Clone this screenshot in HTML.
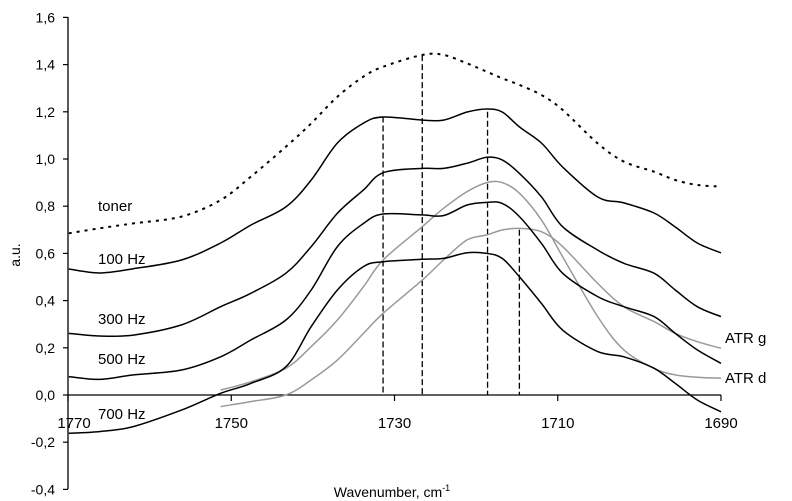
<!DOCTYPE html>
<html><head><meta charset="utf-8"><style>
body{margin:0;background:#fff}
svg{display:block;font-family:"Liberation Sans",Arial,sans-serif}
</style></head><body>
<svg id="chart" width="792" height="501" viewBox="0 0 792 501"></svg>
<script>
const yTicks=[1.6,1.4,1.2,1.0,0.8,0.6,0.4,0.2,0.0,-0.2,-0.4];
const xTicks=[1770,1750,1730,1710,1690];
const wnBlack=[1769.9,1766.2,1762.0,1756.1,1751.3,1747.6,1743.3,1740.2,1737.0,1733.8,1731.4,1726.6,1724.0,1721.1,1718.7,1716.8,1714.7,1712.0,1709.4,1705.1,1701.9,1698.2,1695.6,1692.9,1690];
const tonerVals=[0.685,0.706,0.727,0.756,0.826,0.925,1.052,1.151,1.264,1.349,1.391,1.441,1.441,1.405,1.370,1.342,1.314,1.271,1.208,1.066,0.989,0.946,0.911,0.890,0.883];
const hz100Vals=[0.534,0.517,0.535,0.572,0.644,0.720,0.797,0.911,1.068,1.152,1.178,1.165,1.165,1.199,1.212,1.199,1.136,1.068,0.966,0.839,0.814,0.771,0.712,0.644,0.602];
const hz300Vals=[0.261,0.250,0.254,0.297,0.374,0.431,0.516,0.629,0.770,0.869,0.942,0.960,0.960,0.982,1.007,0.996,0.939,0.840,0.713,0.614,0.558,0.516,0.445,0.374,0.332];
const hz500Vals=[0.078,0.066,0.085,0.106,0.162,0.233,0.318,0.445,0.629,0.727,0.767,0.763,0.760,0.805,0.816,0.812,0.756,0.643,0.516,0.417,0.374,0.332,0.261,0.191,0.134];
const hz700Vals=[-0.162,-0.155,-0.134,-0.064,0.007,0.049,0.120,0.290,0.445,0.544,0.565,0.575,0.579,0.603,0.600,0.579,0.501,0.388,0.275,0.184,0.162,0.113,0.049,-0.021,-0.071];
const wnAtr=[1751.3,1747.6,1743.3,1740.2,1737.0,1733.8,1731.4,1726.6,1724.0,1721.1,1718.7,1716.8,1714.7,1712.0,1709.4,1705.1,1701.9,1698.2,1695.6,1692.9,1690];
const atrDVals=[0.021,0.056,0.113,0.205,0.318,0.459,0.572,0.713,0.791,0.862,0.900,0.900,0.855,0.742,0.586,0.332,0.191,0.113,0.085,0.075,0.071];
const atrGVals=[-0.049,-0.028,0.0,0.064,0.148,0.261,0.346,0.487,0.572,0.657,0.678,0.699,0.706,0.692,0.629,0.473,0.374,0.311,0.261,0.226,0.198];
const peakWn=[1731.4,1726.6,1718.6,1714.7];
const peakTop=[1.18,1.44,1.20,0.70];

const svg=document.getElementById('chart');
const NS='http://www.w3.org/2000/svg';
const X=w=>68+(1770-w)*(653/80);
const Y=v=>395-v*236;
function mk(tag,attrs,parent){const e=document.createElementNS(NS,tag);for(const k in attrs)e.setAttribute(k,attrs[k]);(parent||svg).appendChild(e);return e;}
function smooth(pts){let d='M'+pts[0][0].toFixed(1)+','+pts[0][1].toFixed(1);
 for(let i=0;i<pts.length-1;i++){const p0=pts[i-1]||pts[i],p1=pts[i],p2=pts[i+1],p3=pts[i+2]||p2;
  const c1=[p1[0]+(p2[0]-p0[0])/6,p1[1]+(p2[1]-p0[1])/6],c2=[p2[0]-(p3[0]-p1[0])/6,p2[1]-(p3[1]-p1[1])/6];
  d+=' C'+c1[0].toFixed(1)+','+c1[1].toFixed(1)+' '+c2[0].toFixed(1)+','+c2[1].toFixed(1)+' '+p2[0].toFixed(1)+','+p2[1].toFixed(1);}
 return d;}

// axes
let el=mk('line',{x1:68,y1:17,x2:68,y2:489,stroke:'#000','stroke-width':1.3});


el=mk('line',{x1:68,y1:395,x2:721,y2:395,stroke:'#000','stroke-width':1.3});


yTicks.forEach(v=>{
 const t=mk('line',{x1:63,y1:Y(v),x2:68,y2:Y(v),stroke:'#000','stroke-width':1.2});
 
 
 const l=mk('text',{x:55,y:Y(v)+5,'text-anchor':'end','font-size':14,fill:'#000'});
 l.textContent=v.toFixed(1).replace('.',',');
 
 
});
xTicks.forEach((w,i)=>{
 const t=mk('line',{x1:X(w),y1:395,x2:X(w),y2:401,stroke:'#000','stroke-width':1.2});
 
 
 const l=mk('text',{x:X(w)+(i===0?6:0),y:428,'text-anchor':'middle','font-size':15,fill:'#000'});
 l.textContent=w;
 
 
});
// dashed peak lines
peakWn.forEach((w,i)=>{
 const l=mk('line',{x1:X(w),y1:Y(peakTop[i]),x2:X(w),y2:395,stroke:'#000','stroke-width':1.3,'stroke-dasharray':'6,3'});
 
 
});
function series(wn,vals,color,dash,name,width){
 const p=mk('path',{d:smooth(wn.map((w,i)=>[X(w),Y(vals[i])])),fill:'none',stroke:color,'stroke-width':width||1.5});
 if(dash)p.setAttribute('stroke-dasharray',dash);
 
 
}
series(wnAtr,atrDVals,'#999',null,'atr-d-line');
series(wnAtr,atrGVals,'#999',null,'atr-g-line');
series(wnBlack,tonerVals,'#000','3,5','toner-line',2);
series(wnBlack,hz100Vals,'#000',null,'hz100-line');
series(wnBlack,hz300Vals,'#000',null,'hz300-line');
series(wnBlack,hz500Vals,'#000',null,'hz500-line');
series(wnBlack,hz700Vals,'#000',null,'hz700-line');
</script>
<svg width="792" height="501" style="position:absolute;left:0;top:0;font-family:'Liberation Sans',Arial,sans-serif">
<text x="98" y="211" font-size="15">toner</text>
<text x="98" y="264" font-size="15">100 Hz</text>
<text x="98" y="324" font-size="15">300 Hz</text>
<text x="98" y="364" font-size="15">500 Hz</text>
<text x="98" y="419" font-size="15">700 Hz</text>
<text x="725" y="343" font-size="15">ATR g</text>
<text x="725" y="383" font-size="15">ATR d</text>
<text x="20" y="255" font-size="14" text-anchor="middle" transform="rotate(-90 20 255)">a.u.</text>
<text x="392" y="497" font-size="14" text-anchor="middle">Wavenumber, cm<tspan font-size="9" dy="-6">-1</tspan></text>
</svg>
</body></html>
